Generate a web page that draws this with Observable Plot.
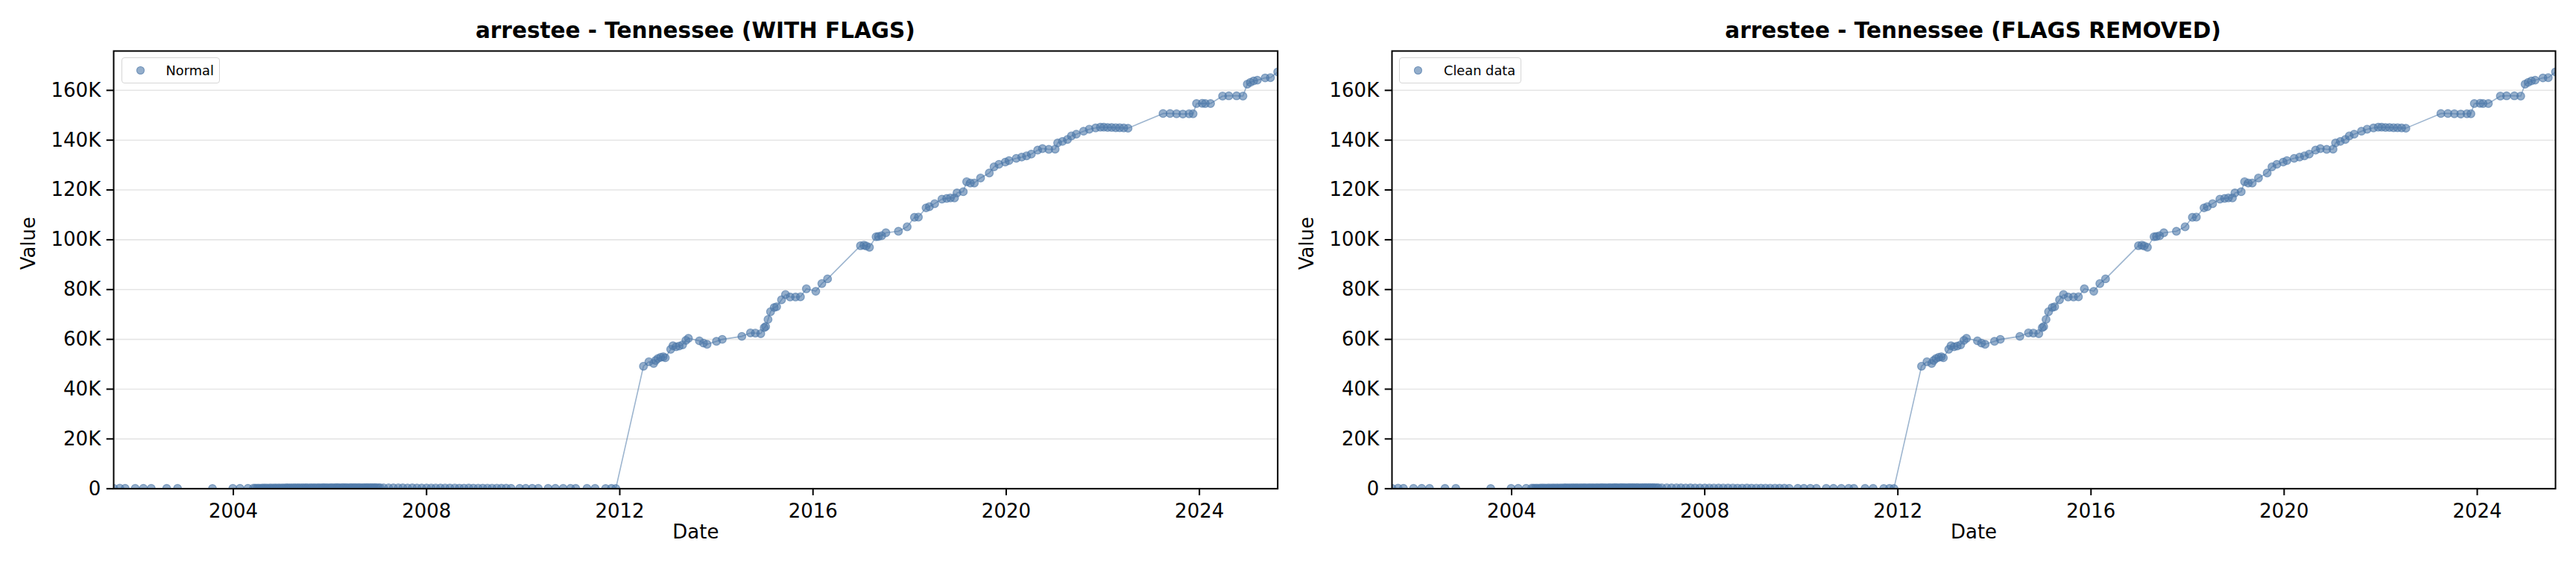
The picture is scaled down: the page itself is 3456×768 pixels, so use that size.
<!DOCTYPE html>
<html>
<head>
<meta charset="utf-8">
<script src="https://cdn.jsdelivr.net/npm/d3@7"></script>
<script src="https://cdn.jsdelivr.net/npm/@observablehq/plot@0.6"></script>
<style>
  html, body { margin: 0; padding: 0; background: #ffffff; }
  body { width: 3456px; height: 768px; position: relative; overflow: hidden; font-family: "DejaVu Sans", sans-serif; color: #000; }
  .panel { position: absolute; top: 0; }
  .title { box-sizing: border-box; height: 60px; padding-top: 24px; line-height: 34px; font-weight: bold; font-size: 29.5px; text-align: center; white-space: nowrap; }
  .panel svg { display: block; overflow: visible; }
  .legend { position: absolute; top: 77px; left: 162.5px; box-sizing: border-box; height: 35px; display: flex; align-items: center;
            border: 1.5px solid #d6d6d6; border-radius: 4px; background: rgba(255,255,255,0.8); padding-left: 19px; padding-right: 7px; }
  .legend .sw { width: 11px; height: 11px; box-sizing: border-box; border-radius: 50%; background: rgba(76,120,168,0.6); border: 1.3px solid rgba(76,120,168,0.6); }
  .legend .lb { margin-left: 29px; font-size: 17.8px; line-height: 20px; white-space: nowrap; }
</style>
</head>
<body>
<div id="p1" class="panel" style="left:0px"></div>
<div id="p2" class="panel" style="left:1714.5px"></div>
<script>
// ---- data ----
const earlyDates = ["2001-07-10","2001-08-25","2001-10-05","2001-12-20","2002-02-20","2002-04-20","2002-08-15","2002-11-05","2003-07-27","2003-12-28","2004-02-20","2004-04-20"];
const earlyValues = [180,220,160,140,170,150,120,130,110,150,160,180];

const denseDates = [
  "2004-06-01","2004-06-15","2004-07-01","2004-07-15","2004-08-01","2004-08-15","2004-09-01","2004-09-15","2004-10-01","2004-10-15","2004-11-01","2004-11-15","2004-12-01","2004-12-15",
  "2005-01-01","2005-01-15","2005-02-01","2005-02-15","2005-03-01","2005-03-15","2005-04-01","2005-04-15","2005-05-01","2005-05-15","2005-06-01","2005-06-15",
  "2005-07-01","2005-07-15","2005-08-01","2005-08-15","2005-09-01","2005-09-15","2005-10-01","2005-10-15","2005-11-01","2005-11-15","2005-12-01","2005-12-15",
  "2006-01-01","2006-01-15","2006-02-01","2006-02-15","2006-03-01","2006-03-15","2006-04-01","2006-04-15","2006-05-01","2006-05-15","2006-06-01","2006-06-15",
  "2006-07-01","2006-07-15","2006-08-01","2006-08-15","2006-09-01","2006-09-15","2006-10-01","2006-10-15","2006-11-01","2006-11-15","2006-12-01","2006-12-15",
  "2007-01-01","2007-01-15"];
const denseValues = [
  210,240,260,230,250,270,280,260,290,300,280,310,300,320,
  330,310,340,350,330,360,340,370,350,360,380,370,
  390,360,380,400,390,370,410,390,400,420,410,390,
  400,420,410,430,420,400,430,440,420,410,440,430,
  450,420,440,430,410,440,420,430,450,440,420,430,
  410,400];

const lightDates = ["2007-02-10","2007-03-20","2007-04-25","2007-06-01","2007-07-05","2007-08-10","2007-09-15","2007-10-20","2007-11-25","2008-01-01",
  "2008-02-05","2008-03-10","2008-04-15","2008-05-20","2008-06-25","2008-08-01","2008-09-05","2008-10-10","2008-11-15","2008-12-20",
  "2009-01-25","2009-03-01","2009-04-05","2009-05-10","2009-06-15","2009-07-20","2009-08-25","2009-10-01"];
const lightValues = [380,360,350,370,340,330,350,320,310,330,
  300,290,310,280,270,290,260,250,270,240,
  230,250,220,210,230,200,190,180];

const lateDates = ["2009-12-05","2010-01-20","2010-03-10","2010-04-25","2010-07-08","2010-09-01","2010-10-30","2010-12-25","2011-02-02","2011-04-28",
  "2011-06-28","2011-09-16","2011-10-30","2011-12-02"];
const lateValues = [170,160,180,150,140,160,130,150,120,140,
  130,110,120,100];

const rise1Dates = ["2012-06-28","2012-08-08","2012-09-13","2012-09-28","2012-10-15","2012-11-05","2012-11-25","2012-12-10","2013-01-20","2013-02-06",
  "2013-03-01","2013-03-25","2013-04-20","2013-05-15","2013-06-03","2013-08-25","2013-09-25","2013-10-22","2014-01-01","2014-02-14",
  "2014-07-12","2014-09-15","2014-10-22","2014-12-02","2014-12-28","2015-01-08","2015-01-26","2015-02-14","2015-03-14","2015-04-01",
  "2015-05-08","2015-06-07","2015-07-12","2015-08-22","2015-09-28","2015-11-12","2016-01-22","2016-03-08","2016-04-20"];
const rise1Values = [49200,51000,50300,51500,52300,52800,53000,52600,56000,57400,
  57000,57300,57800,59600,60400,59400,58500,58000,59200,60000,
  61200,62600,62500,62300,64700,65100,68000,71100,72800,73100,
  75900,78000,77000,77000,77100,80300,79300,82400,84300];

const rise2Dates = ["2016-12-25","2017-01-20","2017-02-06","2017-03-03","2017-04-22","2017-05-10","2017-06-03","2017-07-05","2017-10-08","2017-12-13",
  "2018-02-06","2018-03-08","2018-05-05","2018-05-30","2018-07-09","2018-09-02","2018-10-08","2018-11-05","2018-12-06","2018-12-25",
  "2019-02-10","2019-03-08","2019-04-05","2019-05-05","2019-06-21","2019-08-26","2019-10-01","2019-11-07","2019-12-25","2020-01-22",
  "2020-03-17","2020-04-27","2020-06-03","2020-07-09","2020-08-26","2020-10-01","2020-11-18","2021-01-05","2021-01-24","2021-03-01",
  "2021-04-08","2021-05-08","2021-06-14","2021-08-08","2021-09-20","2021-11-07","2021-12-13","2022-01-08","2022-02-06","2022-03-08",
  "2022-04-08","2022-05-08","2022-06-08","2022-07-10"];
const rise2Values = [97600,97800,97500,97000,101200,101300,101600,102800,103400,105200,
  109000,109100,112800,113300,114500,116300,116600,116800,116800,118800,
  119300,123300,122800,122800,124800,126800,129300,130300,131200,131800,
  132700,133200,133700,134400,136000,136600,136300,136400,138900,139500,
  140300,141700,142400,143600,144400,144900,145200,145200,145100,145100,
  145000,145000,144900,144800];

const rise3Dates = ["2023-04-01","2023-05-24","2023-07-12","2023-08-29","2023-10-15","2023-11-14","2023-12-10","2024-01-22","2024-02-14","2024-03-25",
  "2024-06-24","2024-08-10","2024-10-08","2024-11-25","2024-12-28","2025-01-20","2025-02-14","2025-03-14","2025-05-12","2025-06-21",
  "2025-08-15"];
const rise3Values = [150700,150700,150600,150500,150600,150600,154700,154800,154700,154700,
  157700,157800,157800,157700,162500,163200,163800,164100,165000,165100,
  167400];

const yTicks = [0, 20000, 40000, 60000, 80000, 100000, 120000, 140000, 160000];
const yTickLabels = ["0", "20K", "40K", "60K", "80K", "100K", "120K", "140K", "160K"];
const xTickLabels = ["2004", "2008", "2012", "2016", "2020", "2024"];
const yMax = 175800;
const titles = ["arrestee - Tennessee (WITH FLAGS)", "arrestee - Tennessee (FLAGS REMOVED)"];
const legendLabels = ["Normal", "Clean data"];
const xLabel = "Date";
const yLabel = "Value";

// ---- build table ----
const allDates = [].concat(earlyDates, denseDates, lightDates, lateDates, rise1Dates, rise2Dates, rise3Dates);
const allValues = [].concat(earlyValues, denseValues, lightValues, lateValues, rise1Values, rise2Values, rise3Values);
const table = allDates.map((d, i) => ({date: new Date(d + "T00:00:00Z"), value: allValues[i]}));
const xTicks = xTickLabels.map(y => new Date(y + "-01-01T00:00:00Z"));
const color = "#4C78A8";

function chart(width, plotW) {
  const mL = 152, mT = 8, H = 708, mB = 112.3;
  return Plot.plot({
    width, height: H,
    marginLeft: mL, marginRight: width - mL - plotW, marginTop: mT, marginBottom: mB,
    style: {fontFamily: "DejaVu Sans", fontSize: "26px", color: "black", background: "transparent", overflow: "visible"},
    x: {type: "utc", domain: [table[0].date, table[table.length - 1].date]},
    y: {domain: [0, yMax]},
    marks: [
      Plot.gridY(yTicks, {stroke: "#e5e5e5", strokeOpacity: 1, strokeWidth: 1.6}),
      Plot.line(table, {x: "date", y: "value", stroke: color, strokeOpacity: 0.55, strokeWidth: 1.6, clip: true}),
      Plot.dot(table, {x: "date", y: "value", r: 5.3, fill: color, fillOpacity: 0.6, stroke: color, strokeOpacity: 0.6, strokeWidth: 1.3, clip: true}),
      Plot.frame({stroke: "black", strokeWidth: 2}),
      Plot.axisY(yTicks, {tickSize: 9.3, tickPadding: 8, strokeWidth: 2, label: null,
        tickFormat: d => yTickLabels[yTicks.indexOf(d)]}),
      Plot.axisX(xTicks, {tickSize: 9.3, tickPadding: 11, strokeWidth: 2, label: null,
        tickFormat: d => xTickLabels[xTicks.findIndex(t => +t === +d)]}),
      Plot.text([xLabel], {text: d => d, frameAnchor: "bottom", dy: 67, fontSize: 26, fill: "black"}),
      Plot.text([yLabel], {text: d => d, frameAnchor: "left", dx: -114, rotate: -90, fontSize: 26, fill: "black"})
    ]
  });
}

const panels = [["p1", 1730, 1561.7], ["p2", 1730, 1561]];
panels.forEach(([id, w, pw], i) => {
  const el = document.getElementById(id);
  const t = document.createElement("div");
  t.className = "title";
  t.style.width = w + "px";
  t.style.paddingLeft = "152px";
  t.style.paddingRight = (w - 152 - pw) + "px";
  t.textContent = titles[i];
  el.appendChild(t);
  el.appendChild(chart(w, pw));
  const lg = document.createElement("div");
  lg.className = "legend";
  const sw = document.createElement("span"); sw.className = "sw";
  const lb = document.createElement("span"); lb.className = "lb"; lb.textContent = legendLabels[i];
  lg.appendChild(sw); lg.appendChild(lb);
  el.appendChild(lg);
});
</script>
</body>
</html>
